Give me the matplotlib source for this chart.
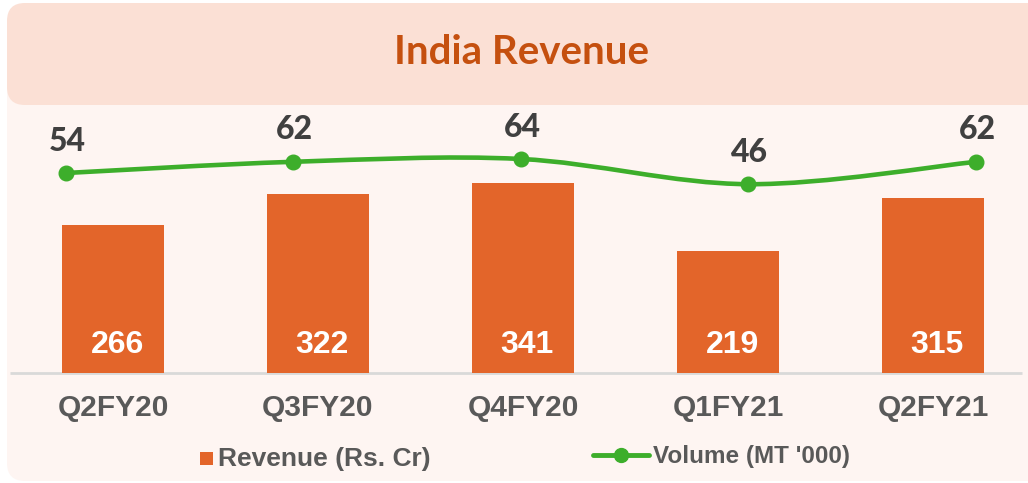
import matplotlib
matplotlib.use("Agg")
import matplotlib.pyplot as plt
from matplotlib.patches import FancyBboxPatch, Rectangle
from matplotlib.path import Path
from matplotlib.patches import PathPatch
from matplotlib.lines import Line2D

# ---- data ----
categories = ["Q2FY20", "Q3FY20", "Q4FY20", "Q1FY21", "Q2FY21"]
revenue = [266, 322, 341, 219, 315]
volume = [54, 62, 64, 46, 62]
title = "India Revenue"
legend_revenue = "Revenue (Rs. Cr)"
legend_volume = "Volume (MT '000)"

# ---- style ----
W, H = 1028, 483
BAR_C = "#E3652A"
LINE_C = "#3DAE2B"
TITLE_C = "#C5500F"
HEAD_BG = "#FBE0D5"
PANEL_BG = "#FEF5F2"
TXT_DARK = "#404040"
TXT_GRAY = "#595959"
ARIAL = ["Liberation Sans", "DejaVu Sans"]
GEO = ["Lato", "DejaVu Sans"]

fig = plt.figure(figsize=(W / 100, H / 100), dpi=100)
fig.patch.set_facecolor("white")

# background axes in pixel coordinates
bg = fig.add_axes([0, 0, 1, 1])
bg.set_xlim(0, W)
bg.set_ylim(H, 0)
bg.axis("off")
bg.add_patch(FancyBboxPatch((7, 60), W + 40, H - 62, boxstyle="round,pad=0,rounding_size=18",
                            fc=PANEL_BG, ec="none"))
bg.add_patch(FancyBboxPatch((7, 3), W + 40, 102, boxstyle="round,pad=0,rounding_size=18",
                            fc=HEAD_BG, ec="none"))
bg.text(522, 53, title, ha="center", va="center", fontsize=29, fontweight="bold",
        color=TITLE_C, family=GEO)
bg.plot([10, 1022], [373, 373], color="#D9D9D9", lw=2, solid_capstyle="butt")

# legend glyphs
bg.add_patch(Rectangle((200, 452), 13, 13, fc=BAR_C, ec="none"))
bg.text(218, 459, legend_revenue, ha="left", va="center", fontsize=19, fontweight="bold",
        color=TXT_GRAY, family=ARIAL)
bg.add_line(Line2D([593, 649], [455, 455], color=LINE_C, lw=3.5, solid_capstyle="round"))
bg.add_line(Line2D([621], [455], color=LINE_C, marker="o", markersize=10, lw=0))
bg.text(653, 457, legend_volume, ha="left", va="center", fontsize=17.5, fontweight="bold",
        color=TXT_GRAY, family=ARIAL)

# main axes: x from 10 to 1020 px, y from 110 to 373 px (top-origin)
ax_l, ax_r, ax_t, ax_b = 10, 1020, 110, 373
pos = [ax_l / W, 1 - ax_b / H, (ax_r - ax_l) / W, (ax_b - ax_t) / H]
ax = fig.add_axes(pos)
ax.patch.set_alpha(0)
px_per_cat = 205.0
x0 = 113.0
ax.set_xlim((ax_l - x0) / px_per_cat, (ax_r - x0) / px_per_cat)
px_per_unit = 0.5565
ax.set_ylim(0, (ax_b - ax_t) / px_per_unit)
xs = list(range(len(categories)))
ax.bar(xs, revenue, width=102 / px_per_cat, color=BAR_C, zorder=2)
for x, v in zip(xs, revenue):
    ax.text(x + 0.02, 51, str(v), ha="center", va="center", color="white", fontsize=23,
            fontweight="bold", family=ARIAL, zorder=3)
ax.set_xticks(xs)
ax.set_xticklabels(categories, fontsize=21.5, fontweight="bold", color=TXT_GRAY, family=ARIAL)
ax.tick_params(axis="x", length=0, pad=15)
ax.set_yticks([])
for s in ax.spines.values():
    s.set_visible(False)

# secondary axes for volume line
ax2 = fig.add_axes(pos)
ax2.patch.set_alpha(0)
ax2.axis("off")
lx0, lstep = 66.0, 227.5
ax2.set_xlim((ax_l - lx0) / lstep, (ax_r - lx0) / lstep)
v_ref, v_px, v_scale = 54, 173, 1.4
ax2.set_ylim(v_ref - (ax_b - v_px) / v_scale, v_ref + (v_px - ax_t) / v_scale)

# smoothed curve (Catmull-Rom as cubic Bezier through the data points)
pts = list(zip(xs, volume))
verts = [pts[0]]
codes = [Path.MOVETO]
n = len(pts)
for i in range(n - 1):
    p0 = pts[i - 1] if i > 0 else pts[i]
    p1 = pts[i]
    p2 = pts[i + 1]
    p3 = pts[i + 2] if i + 2 < n else pts[i + 1]
    c1 = (p1[0] + (p2[0] - p0[0]) / 6, p1[1] + (p2[1] - p0[1]) / 6)
    c2 = (p2[0] - (p3[0] - p1[0]) / 6, p2[1] - (p3[1] - p1[1]) / 6)
    verts += [c1, c2, p2]
    codes += [Path.CURVE4] * 3
ax2.add_patch(PathPatch(Path(verts, codes), fc="none", ec=LINE_C, lw=3.3, zorder=3))
ax2.plot(xs, volume, lw=0, marker="o", markersize=10.5, color=LINE_C, zorder=4)
for x, v in zip(xs, volume):
    ax2.annotate(str(v), (x, v), xytext=(1, 23), textcoords="offset points", ha="center",
                 va="center", fontsize=23, fontweight="black", color=TXT_DARK,
                 family=GEO)

fig.savefig("out.png", dpi=100, facecolor=fig.get_facecolor())
